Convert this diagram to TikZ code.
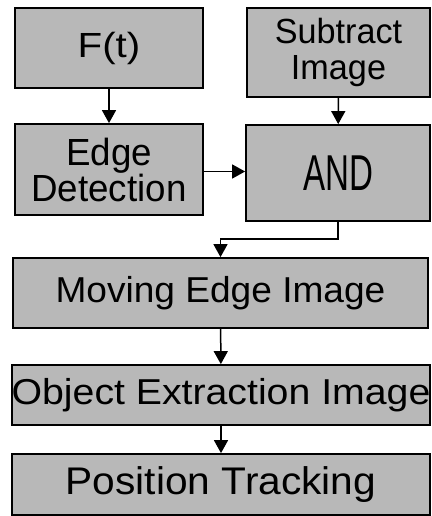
\documentclass[tikz,border=0pt]{standalone}
\usepackage{fontspec}
\usepackage{graphicx}
\setmainfont{Liberation Sans}
\usetikzlibrary{arrows.meta}
\definecolor{boxgray}{HTML}{B8B8B8}
\newcommand{\sx}[4]{\raisebox{#3pt}{\scalebox{#1}[#2]{#4}}}
\begin{document}
\begin{tikzpicture}[x=1pt,y=-1pt,
  box/.style={draw=black,line width=1.8pt,fill=boxgray,inner sep=0pt,align=center,
    font=\fontsize{36}{36}\selectfont},
  arr/.style={draw=black,line width=1.5pt,-{Triangle[length=13pt,width=14pt]}}]
\useasboundingbox (0,0) rectangle (431,516);
\node[box,minimum width=188pt,minimum height=80pt] (F) at (109,48) {\sx{1.12}{0.97}{0}{F(t)}};
\node[box,minimum width=188pt,minimum height=91pt] (E) at (109,169.5) {\sx{1.02}{1.05}{-4}{Edge}\\\sx{1.02}{1.05}{-4}{Detection}};
\node[box,minimum width=183pt,minimum height=89pt] (S) at (338.5,52.5) {\sx{0.95}{0.97}{0}{Subtract}\\\sx{0.95}{0.97}{0}{Image}};
\node[box,minimum width=184pt,minimum height=96pt] (A) at (338,173) {\sx{0.92}{1.4}{0}{AND}};
\node[box,minimum width=415pt,minimum height=70pt] (M) at (220.5,293) {\sx{1.03}{1.0}{8}{Moving Edge Image}};
\node[box,minimum width=418pt,minimum height=60pt] (O) at (221,395) {\sx{1.09}{1.0}{2}{Object Extraction Image}};
\node[box,minimum width=418pt,minimum height=61pt] (P) at (221,484.5) {\sx{1.13}{1.07}{4}{Position Tracking}};
\draw[arr] (F) -- (E);
\draw[arr] (S) -- (A);
\draw[arr] ([yshift=-2pt]E.east) -- ([yshift=-2pt]E.east -| A.west);
\draw[arr] (A.south) -- ++(0,17) coordinate (k) -| (M.north);
\draw[arr] (M) -- (O);
\draw[arr] (O) -- (P);
\end{tikzpicture}
\end{document}
